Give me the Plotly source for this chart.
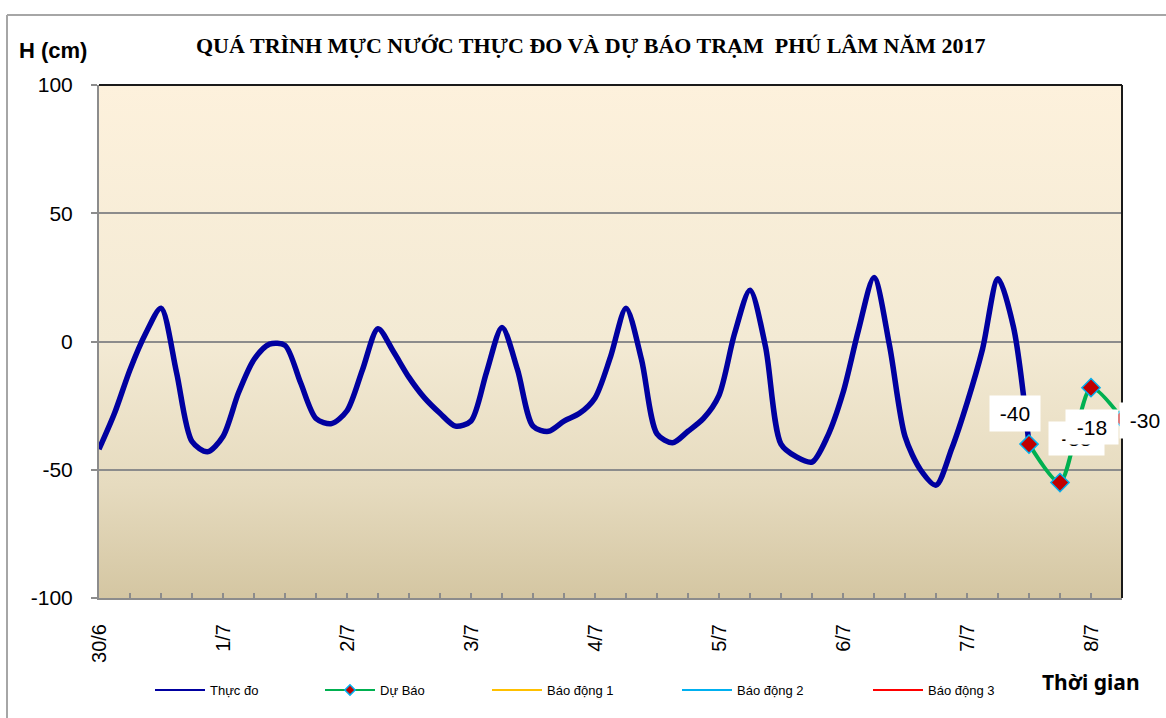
import base64
import plotly.graph_objects as go

# ---------------- data ----------------
title_text = "QUÁ TRÌNH MỰC NƯỚC THỰC ĐO VÀ DỰ BÁO TRẠM  PHÚ LÂM NĂM 2017"
day_labels = ["30/6", "1/7", "2/7", "3/7", "4/7", "5/7", "6/7", "7/7", "8/7"]
day_hours = [0, 24, 48, 72, 96, 120, 144, 168, 192]
y_ticks = [-100, -50, 0, 50, 100]
y_tick_labels = ["-100", "-50", "0", "50", "100"]

obs_hours = list(range(0, 181, 3))
obs_values = [-42, -28, -11, 3, 13, -12, -39, -43, -37, -20,
              -7, -1, -1.5, -16, -30, -32, -27, -11, 5, -4,
              -14, -22, -28, -33, -31, -12, 5.5, -11, -33, -35,
              -31, -28, -22, -6, 13, -7, -36, -39.5, -35, -30,
              -21, 3, 20, -2, -40, -45, -47, -37, -20, 4.5,
              25, -1.5, -37, -50, -56, -42, -24, -3, 24.5, 5.6,
              -40]

fc_hours = [180, 186, 192, 198]
fc_values = [-40, -55, -18, -30]

alarm_hours = [0, 198]
alarm1 = [140, 140]
alarm2 = [150, 150]
alarm3 = [160, 160]

# ---------------- figure ----------------
W, H = 1166, 718
L, R, T, B = 99, 44, 85, 120
pw, ph = W - L - R, H - T - B


def px(xp):
    return (xp - L) / pw


def py(yp):
    return (H - B - yp) / ph


fig = go.Figure()

fig.add_trace(go.Scatter(x=obs_hours, y=obs_values, mode="lines",
                         line=dict(color="#0000A0", width=5.5, shape="spline", smoothing=0.8),
                         showlegend=False, name="Thực đo"))
fig.add_trace(go.Scatter(x=fc_hours, y=fc_values, mode="lines+markers",
                         line=dict(color="#00B050", width=4, shape="spline", smoothing=0.7),
                         marker=dict(symbol="diamond", size=14, color="#C00000",
                                     line=dict(color="#00B0F0", width=1.5)),
                         cliponaxis=False, showlegend=False, name="Dự Báo"))
for vals, col, nm, lg in [(alarm1, "#FFC000", "Báo động 1", "legend3"),
                          (alarm2, "#00B0F0", "Báo động 2", "legend4"),
                          (alarm3, "#FF0000", "Báo động 3", "legend5")]:
    fig.add_trace(go.Scatter(x=alarm_hours, y=vals, mode="lines",
                             line=dict(color=col, width=2), name=nm, legend=lg))

# legend proxies (thin lines like the reference legend)
fig.add_trace(go.Scatter(x=[None], y=[None], mode="lines", name="Thực đo",
                         line=dict(color="#0000A0", width=2), legend="legend"))
fig.add_trace(go.Scatter(x=[None], y=[None], mode="lines+markers", name="Dự Báo",
                         line=dict(color="#00B050", width=2),
                         marker=dict(symbol="diamond", size=8, color="#C00000",
                                     line=dict(color="#00B0F0", width=1.5)),
                         legend="legend2"))

# data labels of forecast
label_offsets = [(-14, 31, 48, 33), (16, 44, 53, 31), (1, -39, 50, 32), (23, -2, 48, 33)]
anns = []
for xv, yv, (dx, dy, w, h) in zip(fc_hours, fc_values, label_offsets):
    anns.append(dict(x=xv, y=yv, xref="x", yref="y", text=str(yv), showarrow=False,
                     xshift=dx, yshift=dy, width=w, height=h, bgcolor="white",
                     font=dict(family="Liberation Sans, Arial", size=21, color="black")))

anns.append(dict(x=px(591), y=py(45), xref="paper", yref="paper", text="<b>" + title_text + "</b>",
                 showarrow=False, xanchor="center", yanchor="middle",
                 font=dict(family="Liberation Serif, Times New Roman", size=22, color="black")))
anns.append(dict(x=px(17), y=py(50), xref="paper", yref="paper", text="<b>H (cm)</b>",
                 showarrow=False, xanchor="left", yanchor="middle",
                 font=dict(family="Liberation Sans, Arial", size=22, color="black")))
anns.append(dict(x=px(1040), y=py(682), xref="paper", yref="paper", text="<b>Thời gian</b>",
                 showarrow=False, xanchor="left", yanchor="middle",
                 font=dict(family="Noto Sans, Open Sans", size=21, color="black")))

# gradient background
svg = ('<svg xmlns="http://www.w3.org/2000/svg" width="10" height="100" preserveAspectRatio="none">'
       '<defs><linearGradient id="g" x1="0" y1="0" x2="0" y2="1">'
       '<stop offset="0" stop-color="#FDF1DC"/>'
       '<stop offset="0.5" stop-color="#F3EAD4"/>'
       '<stop offset="0.78" stop-color="#E6DBBF"/>'
       '<stop offset="1" stop-color="#D4C6A2"/>'
       '</linearGradient></defs><rect width="10" height="100" fill="url(#g)"/></svg>')
src = "data:image/svg+xml;base64," + base64.b64encode(svg.encode()).decode()

shapes = [
    # top and right plot borders
    dict(type="line", xref="paper", yref="paper", x0=0, x1=1, y0=1, y1=1,
         line=dict(color="#1A1A1A", width=2)),
    dict(type="line", xref="paper", yref="paper", x0=1, x1=1, y0=0, y1=1,
         line=dict(color="#1A1A1A", width=2)),
    # outer chart frame
    dict(type="line", xref="paper", yref="paper", x0=px(7), x1=px(1170), y0=py(15), y1=py(15),
         line=dict(color="#A6A6A6", width=2)),
    dict(type="line", xref="paper", yref="paper", x0=px(7), x1=px(7), y0=py(15), y1=py(722),
         line=dict(color="#A6A6A6", width=2)),
]

legend_common = dict(orientation="h", yanchor="middle", xanchor="left",
                     bgcolor="rgba(0,0,0,0)", itemwidth=50,
                     font=dict(family="Liberation Sans, Arial", size=13, color="black"))
leg_x = [150, 320, 487, 677, 868]

fig.update_layout(
    width=W, height=H,
    margin=dict(l=L, r=R, t=T, b=B),
    paper_bgcolor="white",
    plot_bgcolor="#F3EAD4",
    images=[dict(source=src, xref="paper", yref="paper", x=0, y=1, sizex=1, sizey=1,
                 sizing="stretch", xanchor="left", yanchor="top", layer="below")],
    shapes=shapes,
    annotations=anns,
    legend=dict(x=px(leg_x[0]), y=py(690), **legend_common),
    legend2=dict(x=px(leg_x[1]), y=py(690), **legend_common),
    legend3=dict(x=px(leg_x[2]), y=py(690), **legend_common),
    legend4=dict(x=px(leg_x[3]), y=py(690), **legend_common),
    legend5=dict(x=px(leg_x[4]), y=py(690), **legend_common),
    xaxis=dict(range=[0, 198], tickvals=day_hours, ticktext=day_labels, tickangle=-90,
               ticks="inside", ticklen=5, tickcolor="#8C8C8C", tickwidth=1.5,
               minor=dict(dtick=6, tick0=0, ticks="inside", ticklen=5, tickcolor="#8C8C8C",
                          tickwidth=1.5, showgrid=False),
               showgrid=False, zeroline=False, showline=True, linecolor="#8C8C8C", linewidth=2,
               ticklabelstandoff=16,
               tickfont=dict(family="Liberation Sans, Arial", size=20, color="black")),
    yaxis=dict(range=[-100, 100], tickvals=y_ticks, ticktext=y_tick_labels,
               ticks="outside", ticklen=6, tickcolor="#8C8C8C", tickwidth=1.5,
               showgrid=True, gridcolor="#8C8C8C", gridwidth=2, zeroline=False,
               showline=True, linecolor="#8C8C8C", linewidth=2, ticklabelstandoff=14,
               tickfont=dict(family="Liberation Sans, Arial", size=21, color="black")),
)

fig.write_html("out.html", config={"displayModeBar": False},
               post_script="document.body.style.margin='0';")
